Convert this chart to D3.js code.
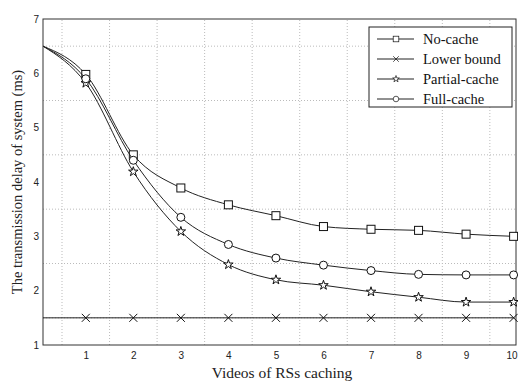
<!DOCTYPE html>
<html>
<head>
<meta charset="utf-8">
<script src="https://d3js.org/d3.v7.min.js"></script>
<style>
  body { margin: 0; background: #fff; }
  svg { display: block; }
  .tick text { font-family: Arial, "Liberation Sans", sans-serif; font-size: 10px; fill: #222; }
</style>
</head>
<body>
<script>
// data
var xs = [0.1, 1, 2, 3, 4, 5, 6, 7, 8, 9, 10];
var noCache = [6.5, 5.98, 4.5, 3.89, 3.58, 3.38, 3.18, 3.13, 3.11, 3.04, 3.0];
var lowerBound = [1.5, 1.5, 1.5, 1.5, 1.5, 1.5, 1.5, 1.5, 1.5, 1.5, 1.5];
var partialCache = [6.5, 5.82, 4.19, 3.09, 2.48, 2.2, 2.1, 1.98, 1.88, 1.79, 1.79];
var fullCache = [6.5, 5.9, 4.4, 3.35, 2.85, 2.6, 2.47, 2.37, 2.3, 2.29, 2.29];
var xTicks = [1, 2, 3, 4, 5, 6, 7, 8, 9, 10];
var yTicks = [1, 2, 3, 4, 5, 6, 7];
var gridX = [0.5, 1.5, 2.5, 3.5, 4.5, 5.5, 6.5, 7.5, 8.5, 9.5];
var gridY = [1.5, 2.5, 3.5, 4.5, 5.5, 6.5];

var series = [
  {name: "No-cache", vals: noCache, mark: "square"},
  {name: "Lower bound", vals: lowerBound, mark: "cross"},
  {name: "Partial-cache", vals: partialCache, mark: "star"},
  {name: "Full-cache", vals: fullCache, mark: "circle"}
];

var W = 518, H = 383;
var m = {left: 43, top: 19, right: 2, bottom: 38};
var serif = "'Liberation Serif', 'Times New Roman', serif";

var svg = d3.select("body").append("svg").attr("width", W).attr("height", H);

var x = d3.scaleLinear().domain([0.1, 10.05]).range([m.left, W - m.right]);
var y = d3.scaleLinear().domain([1, 7]).range([H - m.bottom, m.top]);

// grid
svg.append("g").selectAll("line").data(gridX).join("line")
  .attr("x1", d => x(d)).attr("x2", d => x(d))
  .attr("y1", y(1)).attr("y2", y(7))
  .attr("stroke", "#bbb").attr("stroke-dasharray", "1,2");
svg.append("g").selectAll("line").data(gridY).join("line")
  .attr("y1", d => y(d)).attr("y2", d => y(d))
  .attr("x1", x.range()[0]).attr("x2", x.range()[1])
  .attr("stroke", "#bbb").attr("stroke-dasharray", "1,2");

// axes
svg.append("g").attr("transform", "translate(0," + y(1) + ")")
  .call(d3.axisBottom(x).tickValues(xTicks).tickFormat(d3.format("d")).tickSize(0).tickPadding(7))
  .call(g => g.select(".domain").remove())
  .call(g => g.selectAll(".tick text").filter(d => d === 10).attr("dx", -2));
svg.append("g").attr("transform", "translate(" + m.left + ",0)")
  .call(d3.axisLeft(y).tickValues(yTicks).tickFormat(d3.format("d")).tickSize(0).tickPadding(4))
  .call(g => g.select(".domain").remove());

// frame
svg.append("rect")
  .attr("x", x.range()[0]).attr("y", y(7))
  .attr("width", x.range()[1] - x.range()[0]).attr("height", y(1) - y(7))
  .attr("fill", "none").attr("stroke", "#333").attr("stroke-width", 1);

var line = d3.line().x((d, i) => x(xs[i])).y(d => y(d)).curve(d3.curveMonotoneX);

function drawMark(g, type, cx, cy) {
  if (type === "square") {
    g.append("rect").attr("x", cx - 4).attr("y", cy - 4).attr("width", 8).attr("height", 8)
      .attr("fill", "#fff").attr("stroke", "#111");
  } else if (type === "circle") {
    g.append("circle").attr("cx", cx).attr("cy", cy).attr("r", 4)
      .attr("fill", "#fff").attr("stroke", "#111");
  } else if (type === "cross") {
    g.append("path").attr("d", "M" + (cx - 4) + "," + (cy - 4) + "L" + (cx + 4) + "," + (cy + 4) +
      "M" + (cx - 4) + "," + (cy + 4) + "L" + (cx + 4) + "," + (cy - 4))
      .attr("stroke", "#111").attr("fill", "none");
  } else if (type === "star") {
    g.append("path").attr("d", d3.symbol(d3.symbolStar, 28)())
      .attr("transform", "translate(" + cx + "," + cy + ")")
      .attr("fill", "#fff").attr("stroke", "#111");
  }
}

series.forEach(function(s) {
  var g = svg.append("g");
  g.append("path").attr("d", line(s.vals))
    .attr("fill", "none").attr("stroke", "#222").attr("stroke-width", 1);
  s.vals.forEach(function(v, i) {
    if (i === 0) return;
    drawMark(g, s.mark, x(xs[i]), y(v));
  });
});

// legend
var lg = svg.append("g");
lg.append("rect").attr("x", 369).attr("y", 27).attr("width", 143).attr("height", 80)
  .attr("fill", "#fff").attr("stroke", "#222");
series.forEach(function(s, i) {
  var ly = 39 + i * 20;
  lg.append("line").attr("x1", 377).attr("x2", 414).attr("y1", ly).attr("y2", ly)
    .attr("stroke", "#222");
  var mg = lg.append("g").attr("transform", "translate(396," + ly + ") scale(0.7) translate(-396," + (-ly) + ")");
  drawMark(mg, s.mark, 396, ly);
  lg.append("text").attr("x", 423).attr("y", ly + 5)
    .attr("font-family", serif).attr("font-size", 14.5)
    .attr("fill", "#111").text(s.name);
});

// axis titles
svg.append("text").attr("x", 282).attr("y", 378)
  .attr("text-anchor", "middle")
  .attr("font-family", serif).attr("font-size", 15.5)
  .attr("fill", "#222").text("Videos of RSs caching");
svg.append("text")
  .attr("transform", "translate(22," + ((y(1) + y(7)) / 2) + ") rotate(-90)")
  .attr("text-anchor", "middle")
  .attr("font-family", serif).attr("font-size", 14.5)
  .attr("fill", "#222").text("The transmission delay of system (ms)");
</script>
</body>
</html>
